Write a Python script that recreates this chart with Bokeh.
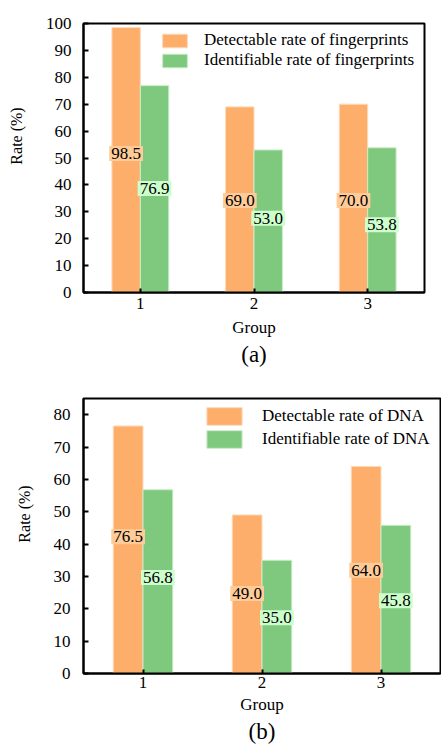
import numpy as np
from bokeh.plotting import figure
from bokeh.layouts import column
from bokeh.models import Range1d, FixedTicker, Title, ColumnDataSource
from bokeh.core.properties import value
from bokeh.embed import file_html
from bokeh.resources import INLINE

groups = [1, 2, 3]
tick_labels = {1: "1", 2: "2", 3: "3"}

# Panel (a): fingerprints
fp_detect = [98.5, 69.0, 70.0]
fp_ident = [76.9, 53.0, 53.8]
fp_detect_label_y = [51.7, 34.2, 34.2]
fp_ident_label_y = [38.7, 27.6, 25.2]

# Panel (b): DNA
dna_detect = [76.5, 49.0, 64.0]
dna_ident = [56.8, 35.0, 45.8]
dna_detect_label_y = [42.3, 24.7, 31.9]
dna_ident_label_y = [29.7, 17.2, 22.5]

ORANGE = "#FDAE6B"
GREEN = "#7FC97F"
ORANGE_BG = "#FFCC99"
GREEN_BG = "#CCFFCC"
FONT = "Liberation Serif"
FS = "17px"
Y_LABEL = "\u00a0" * 11 + "Rate (%)"


def make_panel(detect, ident, det_ly, id_ly, det_name, id_name, ymax, yticks,
               tag, fw, fh, b_left, b_top, b_right, b_bottom,
               legend_loc, glyph_w, glyph_h, spacing, standoff,
               tick_standoff, label_standoff, x_tick_standoff, x_label_standoff):
    p = figure(frame_width=fw, frame_height=fh, output_backend="svg",
               toolbar_location=None, x_range=Range1d(0.5, 3.5),
               y_range=Range1d(0, ymax), min_border_left=b_left,
               min_border_top=b_top, min_border_right=b_right,
               min_border_bottom=b_bottom)
    g = np.array(groups, dtype=float)
    src_d = ColumnDataSource(dict(x=g - 0.125, top=detect, ly=det_ly,
                                  txt=["%.1f" % v for v in detect]))
    src_i = ColumnDataSource(dict(x=g + 0.125, top=ident, ly=id_ly,
                                  txt=["%.1f" % v for v in ident]))
    p.vbar(x="x", top="top", width=0.25, source=src_d, fill_color=ORANGE,
           line_color="#FFD9B8", line_width=1, legend_label=det_name)
    p.vbar(x="x", top="top", width=0.25, source=src_i, fill_color=GREEN,
           line_color="#C9EDC9", line_width=1, legend_label=id_name)
    for src, bg in ((src_d, ORANGE_BG), (src_i, GREEN_BG)):
        p.text(x="x", y="ly", text="txt", source=src, text_align="center",
               text_baseline="middle", text_font=value(FONT),
               text_font_size=FS, text_color="black",
               background_fill_color=bg, padding=2)

    p.grid.visible = False
    p.outline_line_color = "black"
    p.outline_line_width = 2
    p.outline_line_alpha = 1
    for ax in (p.xaxis[0], p.yaxis[0]):
        ax.axis_line_width = 2
        ax.major_tick_in = 5
        ax.major_tick_out = 0
        ax.major_tick_line_width = 2
        ax.minor_tick_line_color = None
        ax.major_label_text_font = FONT
        ax.major_label_text_font_size = FS
        ax.major_label_text_color = "black"
        ax.axis_label_text_font = FONT
        ax.axis_label_text_font_size = FS
        ax.axis_label_text_font_style = "normal"
        ax.axis_label_text_color = "black"
    p.xaxis.ticker = FixedTicker(ticks=groups)
    p.xaxis.major_label_overrides = tick_labels
    p.xaxis.major_tick_in = 4
    p.xaxis.major_label_standoff = x_tick_standoff
    p.xaxis.axis_label = "Group"
    p.xaxis.axis_label_standoff = x_label_standoff
    p.yaxis.ticker = FixedTicker(ticks=yticks)
    p.yaxis.major_label_standoff = tick_standoff
    p.yaxis.axis_label = Y_LABEL
    p.yaxis.axis_label_text_font_size = "16px"
    p.yaxis.axis_label_standoff = label_standoff

    p.add_layout(Title(text=tag, align="center", text_font=FONT,
                       text_font_size="23px", text_font_style="normal",
                       text_color="black", standoff=0), "below")

    lg = p.legend[0]
    lg.location = legend_loc
    lg.padding = 0
    lg.margin = 0
    lg.border_line_color = None
    lg.background_fill_alpha = 0
    lg.glyph_width = glyph_w
    lg.glyph_height = glyph_h
    lg.label_height = glyph_h
    lg.spacing = spacing
    lg.label_standoff = standoff
    lg.label_text_font = FONT
    lg.label_text_font_size = FS
    lg.label_text_color = "black"
    return p


p1 = make_panel(fp_detect, fp_ident, fp_detect_label_y, fp_ident_label_y,
                "Detectable rate of fingerprints",
                "Identifiable rate of fingerprints",
                100, list(range(0, 101, 10)), "(a)",
                341, 269, 81, 23, 19, 78,
                (76, 222), 31, 17, 0, 14, 12, 18, 5, 6)
p2 = make_panel(dna_detect, dna_ident, dna_detect_label_y, dna_ident_label_y,
                "Detectable rate of DNA", "Identifiable rate of DNA",
                85, list(range(0, 81, 10)), "(b)",
                357, 275, 83, 28, 1, 71,
                (119, 223), 44, 22, 1, 16, 13, 18, 3, 4)

layout = column(p1, p2)
open("out.html", "w").write(file_html(layout, INLINE))
